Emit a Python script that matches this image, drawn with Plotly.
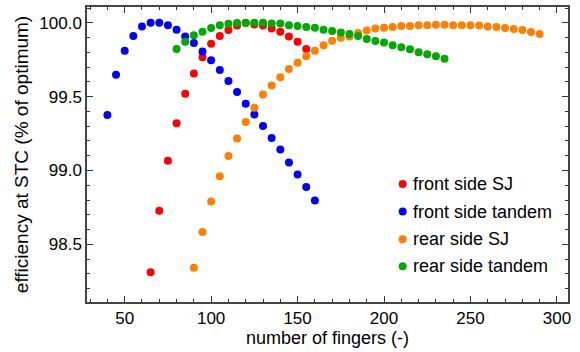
import plotly.graph_objects as go

# ---- data ----
front_sj_x = [65, 70, 75, 80, 85, 90, 95, 100, 105, 110, 115, 120, 125, 130, 135, 140, 145, 150, 155]
front_sj_y = [98.311, 98.727, 99.067, 99.320, 99.519, 99.656, 99.767, 99.859, 99.911, 99.951,
              99.982, 100.0, 99.989, 99.982, 99.962, 99.940, 99.908, 99.872, 99.823]

front_tandem_x = [40, 45, 50, 55, 60, 65, 70, 75, 80, 85, 90, 95, 100, 105, 110, 115, 120,
                  125, 130, 135, 140, 145, 150, 155, 160]
front_tandem_y = [99.376, 99.649, 99.810, 99.911, 99.975, 100.0, 100.0, 99.984, 99.953, 99.908,
                  99.864, 99.805, 99.747, 99.680, 99.606, 99.532, 99.452, 99.380, 99.302, 99.221,
                  99.142, 99.054, 98.973, 98.888, 98.797]

rear_sj_x = [90, 95, 100, 105, 110, 115, 120, 125, 130, 135, 140, 145, 150, 155, 160, 165, 170,
             175, 180, 185, 190, 195, 200, 205, 210, 215, 220, 225, 230, 235, 240, 245, 250,
             255, 260, 265, 270, 275, 280, 285, 290]
rear_sj_y = [98.342, 98.584, 98.790, 98.962, 99.099, 99.217, 99.329, 99.425, 99.515, 99.575,
             99.631, 99.687, 99.729, 99.773, 99.811, 99.848, 99.879, 99.899, 99.908, 99.931,
             99.948, 99.962, 99.966, 99.971, 99.978, 99.978, 99.984, 99.984, 99.987, 99.987,
             99.984, 99.984, 99.984, 99.982, 99.975, 99.971, 99.964, 99.958, 99.951, 99.937,
             99.924]

rear_tandem_x = [80, 85, 90, 95, 100, 105, 110, 115, 120, 125, 130, 135, 140, 145, 150, 155,
                 160, 165, 170, 175, 180, 185, 190, 195, 200, 205, 210, 215, 220, 225, 230, 235]
rear_tandem_y = [99.823, 99.872, 99.915, 99.940, 99.964, 99.984, 99.993, 99.998, 99.998, 100.0,
                 100.0, 99.995, 99.995, 99.984, 99.978, 99.971, 99.966, 99.953, 99.944, 99.935,
                 99.924, 99.911, 99.890, 99.877, 99.866, 99.848, 99.834, 99.821, 99.801, 99.787,
                 99.774, 99.756]

series_names = ["front side SJ", "front side tandem", "rear side SJ", "rear side tandem"]
series_colors = ["#FF0000", "#0000FF", "#FF8000", "#00AA00"]

x_label = "number of fingers (-)"
y_label = "efficiency at STC (% of optimum)"

FONT = "Liberation Sans, Arial, sans-serif"

fig = go.Figure()
for (xs, ys), name, col in zip(
        [(front_sj_x, front_sj_y), (front_tandem_x, front_tandem_y),
         (rear_sj_x, rear_sj_y), (rear_tandem_x, rear_tandem_y)],
        series_names, series_colors):
    fig.add_trace(go.Scatter(x=xs, y=ys, mode="markers", name=name, showlegend=False,
                             marker=dict(color=col, size=8, line=dict(width=0))))

# custom legend (marker + text), placed like the reference
leg_x = 0.6563
leg_tx = 0.6736
leg_y = [0.3997, 0.3064, 0.2131, 0.1212]
shapes = []
annotations = []
for name, col, yy in zip(series_names, series_colors, leg_y):
    shapes.append(dict(type="circle", xref="paper", yref="paper", xsizemode="pixel",
                       ysizemode="pixel", xanchor=leg_x, yanchor=yy, x0=-4, x1=4, y0=-4, y1=4,
                       fillcolor=col, line=dict(width=0)))
    annotations.append(dict(x=leg_tx, y=yy, xref="paper", yref="paper", text=name,
                            showarrow=False, xanchor="left", yanchor="middle",
                            font=dict(family=FONT, size=18, color="#000")))

axis_common = dict(showline=True, linecolor="#444", linewidth=1.5, mirror="allticks",
                   ticks="inside", ticklen=6, tickwidth=1, tickcolor="#333",
                   showgrid=False, zeroline=False,
                   tickfont=dict(family=FONT, size=17, color="#000"))

fig.update_xaxes(range=[28.2, 306.4], dtick=50, tick0=0,
                 minor=dict(ticks="inside", dtick=10, ticklen=3, tickcolor="#333"),
                 title=dict(text=x_label, font=dict(family=FONT, size=18, color="#000"), standoff=4),
                 **axis_common)
fig.update_yaxes(range=[98.11, 100.107], dtick=0.5, tick0=0, tickformat=".1f",
                 minor=dict(ticks="inside", dtick=0.1, ticklen=3, tickcolor="#333"),
                 title=dict(text=y_label, font=dict(family=FONT, size=19, color="#000"), standoff=6),
                 **axis_common)

fig.update_layout(width=580, height=352, margin=dict(l=87, r=12, t=5, b=50),
                  plot_bgcolor="white", paper_bgcolor="white",
                  shapes=shapes, annotations=annotations)

fig.write_html("out.html", config={"displayModeBar": False},
               post_script="document.body.style.margin='0';")
